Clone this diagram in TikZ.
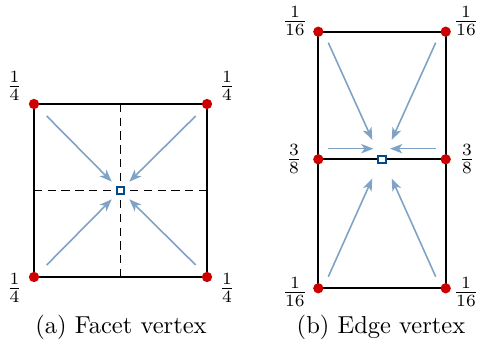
\documentclass[tikz,border=0pt]{standalone}
\usetikzlibrary{arrows.meta}
\definecolor{arrowblue}{RGB}{127,163,198}
\definecolor{markblue}{RGB}{0,75,140}
\definecolor{dotred}{RGB}{204,0,0}
\begin{document}
\begin{tikzpicture}[x=0.408pt,y=-0.408pt,
  edge/.style={line width=0.95pt},
  dashline/.style={line width=0.8pt, dash pattern=on 3.4pt off 2.2pt},
  flow/.style={arrowblue, line width=0.65pt, -{Stealth[length=5pt,width=3.8pt,inset=1.3pt]}},
  dot/.style={circle, fill=dotred, inner sep=0pt, minimum size=4.2pt},
  vmark/.style={draw=markblue, fill=white, line width=0.85pt, inner sep=0pt, minimum size=3pt},
  wlabel/.style={inner sep=0pt},
  caption/.style={inner sep=0pt}
]
\useasboundingbox (0,0) rectangle (477,349);
% ---------- (a) facet vertex ----------
\coordinate (A1) at (34,104);
\coordinate (A2) at (207,104);
\coordinate (A3) at (207,277);
\coordinate (A4) at (34,277);
\coordinate (AT) at (120.5,104);
\coordinate (AB) at (120.5,277);
\coordinate (AL) at (34,190.5);
\coordinate (AR) at (207,190.5);
\draw[dashline] (AT) -- (AB);
\draw[dashline] (AL) -- (AR);
\draw[edge] (A1) -- (A2) -- (A3) -- (A4) -- cycle;
\coordinate (a1s) at (46.7,116);   \coordinate (a1e) at (111.7,181.7);
\coordinate (a2s) at (195.7,116);  \coordinate (a2e) at (129.3,181.7);
\coordinate (a3s) at (46.7,265);   \coordinate (a3e) at (111.7,199.3);
\coordinate (a4s) at (195.7,265);  \coordinate (a4e) at (129.3,199.3);
\draw[flow] (a1s) -- (a1e);
\draw[flow] (a2s) -- (a2e);
\draw[flow] (a3s) -- (a3e);
\draw[flow] (a4s) -- (a4e);
\node[vmark] (AC) at (120.5,190.5) {};
\node[dot] (AD1) at (A1) {};
\node[dot] (AD2) at (A2) {};
\node[dot] (AD3) at (A3) {};
\node[dot] (AD4) at (A4) {};
\node[wlabel] (AL1) at (14.5,86) {$\frac{1}{4}$};
\node[wlabel] (AL2) at (227,86) {$\frac{1}{4}$};
\node[wlabel] (AL3) at (14.5,288) {$\frac{1}{4}$};
\node[wlabel] (AL4) at (227,288) {$\frac{1}{4}$};
\node[caption] (capa) at (121,327) {(a) Facet vertex};
% ---------- (b) edge vertex ----------
\coordinate (B1) at (318.3,31.7);
\coordinate (B2) at (445.7,31.7);
\coordinate (B3) at (445.7,159.3);
\coordinate (B4) at (445.7,288.3);
\coordinate (B5) at (318.3,288.3);
\coordinate (B6) at (318.3,159.3);
\draw[edge] (B1) -- (B2) -- (B4) -- (B5) -- cycle;
\draw[edge] (B6) -- (B3);
\coordinate (b1s) at (328.3,42.7);  \coordinate (b1e) at (372.3,140);
\coordinate (b2s) at (435.7,42.7);  \coordinate (b2e) at (391.7,140);
\coordinate (b3s) at (328.3,148.7); \coordinate (b3e) at (373.5,148.7);
\coordinate (b4s) at (435.7,148.7); \coordinate (b4e) at (390,148.7);
\coordinate (b5s) at (328.3,276.7); \coordinate (b5e) at (372.3,178.5);
\coordinate (b6s) at (435.7,276.7); \coordinate (b6e) at (391.7,178.5);
\draw[flow] (b1s) -- (b1e);
\draw[flow] (b2s) -- (b2e);
\draw[flow] (b3s) -- (b3e);
\draw[flow] (b4s) -- (b4e);
\draw[flow] (b5s) -- (b5e);
\draw[flow] (b6s) -- (b6e);
\node[vmark] (BC) at (382,159.3) {};
\node[dot] (BD1) at (B1) {};
\node[dot] (BD2) at (B2) {};
\node[dot] (BD3) at (B3) {};
\node[dot] (BD4) at (B4) {};
\node[dot] (BD5) at (B5) {};
\node[dot] (BD6) at (B6) {};
\node[wlabel] (BL1) at (295,21) {$\frac{1}{16}$};
\node[wlabel] (BL2) at (466,21) {$\frac{1}{16}$};
\node[wlabel] (BL3) at (294,159) {$\frac{3}{8}$};
\node[wlabel] (BL4) at (467,159) {$\frac{3}{8}$};
\node[wlabel] (BL5) at (295,292) {$\frac{1}{16}$};
\node[wlabel] (BL6) at (466,292) {$\frac{1}{16}$};
\node[caption] (capb) at (381,327) {(b) Edge vertex};
\end{tikzpicture}
\end{document}
